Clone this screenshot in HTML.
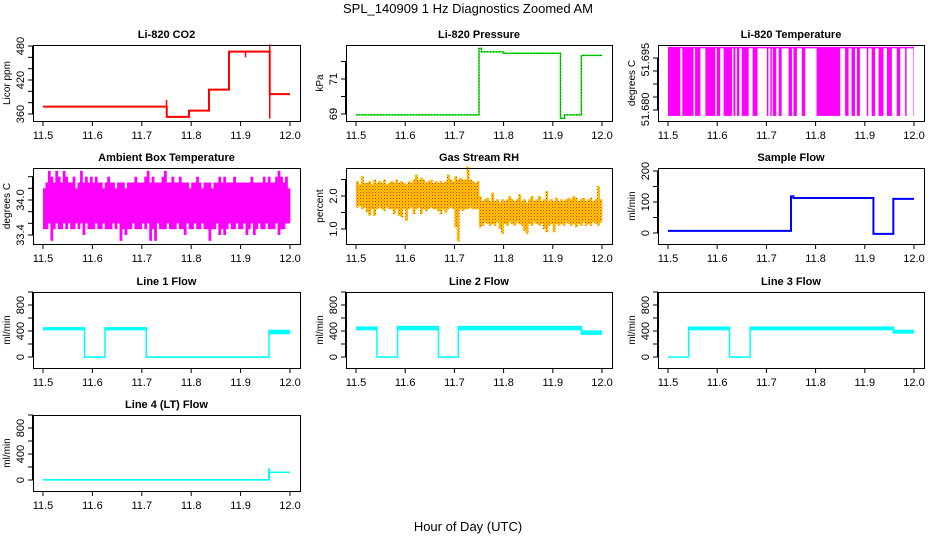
<!DOCTYPE html>
<html><head><meta charset="utf-8"><style>
html,body{margin:0;padding:0;background:#fff}
svg{display:block;font-family:"Liberation Sans",Arial,sans-serif}
</style></head><body>
<svg id="chart" width="936" height="540" viewBox="0 0 936 540">
<defs>
<pattern id="rhpat" width="3" height="3" patternUnits="userSpaceOnUse">
<rect width="3" height="3" fill="#ffd000"/><rect width="1" height="1" fill="#ff2000"/><rect x="1.5" y="1.5" width="1" height="1" fill="#ff4000"/>
</pattern>
</defs>
<text x="468" y="13" text-anchor="middle" font-size="13">SPL_140909  1 Hz Diagnostics Zoomed AM</text>
<text x="468" y="531" text-anchor="middle" font-size="13">Hour of Day (UTC)</text>
</svg>
<script>
// ---- data ----
const xTicks = [11.5, 11.6, 11.7, 11.8, 11.9, 12.0];
const xTickLabels = ["11.5", "11.6", "11.7", "11.8", "11.9", "12.0"];

const co2Times = [11.5, 11.7505, 11.7955, 11.836, 11.8765, 11.959, 12.0];
const co2Levels = [373, 355, 366, 403, 470, 395];
const co2SpikeT = [11.75, 11.959, 11.959, 11.91];
const co2SpikeV = [385, 352, 483, 460];

const presTimes = [11.5, 11.75, 11.755, 11.80, 11.9155, 11.924, 11.958, 12.0];
const presLevels = [68.95, 72.75, 72.55, 72.47, 68.75, 68.95, 72.35];

const tempHigh = 51.698, tempLow = 51.6783;
const tempGapStart = [11.525,11.552,11.566,11.596,11.606,11.630,11.637,11.645,11.664,11.682,11.704,11.711,11.720,11.731,11.752,11.762,11.779,11.850,11.867,11.880,11.890,11.907,11.921,11.938,11.955,11.972,11.985];
const tempGapEnd   = [11.529,11.555,11.576,11.599,11.613,11.633,11.640,11.650,11.672,11.701,11.708,11.713,11.725,11.745,11.755,11.772,11.802,11.860,11.873,11.884,11.904,11.914,11.928,11.945,11.965,11.982,11.999];

const ambHi = [34.2,34.3,34.5,34.4,34.3,34.5,34.4,34.3,34.5,34.4,34.3,34.3,34.4,34.2,34.3,34.5,34.3,34.4,34.3,34.4,34.3,34.4,34.3,34.3,34.2,34.3,34.4,34.3,34.3,34.2,34.3,34.3,34.3,34.2,34.3,34.3,34.3,34.4,34.3,34.3,34.3,34.4,34.5,34.3,34.4,34.3,34.3,34.3,34.4,34.5,34.3,34.3,34.4,34.3,34.3,34.4,34.3,34.3,34.3,34.2,34.3,34.3,34.4,34.3,34.2,34.3,34.3,34.3,34.2,34.3,34.3,34.4,34.3,34.4,34.3,34.3,34.3,34.4,34.3,34.3,34.3,34.3,34.3,34.3,34.4,34.3,34.3,34.3,34.3,34.4,34.3,34.4,34.3,34.3,34.4,34.5,34.4,34.3,34.4,34.2];
const ambLo = [33.5,33.5,33.6,33.3,33.5,33.6,33.5,33.5,33.6,33.5,33.6,33.5,33.5,33.6,33.5,33.6,33.4,33.6,33.5,33.5,33.5,33.6,33.5,33.5,33.6,33.5,33.5,33.5,33.6,33.5,33.6,33.3,33.5,33.4,33.5,33.5,33.6,33.5,33.5,33.5,33.6,33.5,33.6,33.3,33.5,33.3,33.6,33.5,33.5,33.5,33.6,33.5,33.5,33.5,33.6,33.5,33.5,33.4,33.6,33.5,33.5,33.6,33.5,33.5,33.6,33.5,33.5,33.3,33.5,33.5,33.6,33.4,33.5,33.4,33.5,33.6,33.5,33.5,33.6,33.5,33.5,33.6,33.4,33.5,33.6,33.4,33.5,33.6,33.5,33.5,33.6,33.5,33.5,33.5,33.6,33.4,33.5,33.5,33.6,33.6];

const rhHi = [2.45,2.35,2.6,2.4,2.4,2.45,2.35,2.5,2.4,2.45,2.4,2.5,2.35,2.4,2.45,2.4,2.5,2.4,2.45,2.4,2.35,2.45,2.4,2.5,2.65,2.5,2.55,2.5,2.4,2.45,2.5,2.4,2.45,2.4,2.45,2.4,2.45,2.65,2.5,2.45,2.6,2.5,2.55,2.5,2.5,2.9,2.5,2.45,2.4,2.45,2.0,1.85,1.9,1.95,1.85,2.1,1.85,1.9,1.8,1.9,1.85,1.9,2.0,1.9,1.85,1.9,2.05,1.85,1.9,1.8,1.9,2.0,1.85,1.9,2.0,1.85,1.9,2.15,1.85,1.9,1.85,1.95,1.85,1.9,1.85,1.9,1.95,1.9,2.0,1.95,1.85,1.9,1.95,1.85,1.9,1.95,1.85,1.9,2.3,1.9];
const rhLo = [1.65,1.7,1.6,1.65,1.5,1.4,1.6,1.4,1.6,1.65,1.6,1.55,1.65,1.6,1.6,1.45,1.6,1.4,1.35,1.6,1.25,1.6,1.65,1.45,1.6,1.65,1.45,1.6,1.55,1.6,1.65,1.6,1.6,1.55,1.45,1.6,1.5,1.6,1.65,1.6,1.05,0.62,1.6,1.55,1.6,1.6,1.65,1.6,1.6,1.6,1.05,1.1,1.2,1.15,1.1,1.15,1.1,1.2,1.0,0.85,1.15,1.1,1.2,1.15,1.1,1.2,1.15,1.1,0.95,0.85,1.15,1.1,1.2,1.15,1.1,1.15,1.0,0.9,1.1,1.15,0.9,1.15,1.1,1.15,1.1,1.2,1.15,1.1,1.15,1.05,1.15,1.1,1.2,1.1,1.15,1.1,1.2,1.15,1.1,1.2];

const sampTimes = [11.5, 11.75, 11.755, 11.9175, 11.958, 12.0];
const sampLevels = [7, 118, 113, -3, 110];

const l1Times = [11.5, 11.584, 11.6255, 11.709, 11.9575, 12.0];
const l1Lo = [410, -15, 410, -15, 350];
const l1Hi = [460, 10, 460, 10, 420];
const l2Times = [11.5, 11.5426, 11.5845, 11.6676, 11.708, 11.958, 12.0];
const l2Lo = [410, -10, 410, -10, 410, 340];
const l2Hi = [470, 10, 480, 10, 480, 410];
const l3Times = [11.5, 11.542, 11.625, 11.667, 11.958, 12.0];
const l3Lo = [-10, 410, -10, 410, 360];
const l3Hi = [10, 470, 10, 470, 420];
const l4Times = [11.5, 11.9575, 12.0];
const l4Lo = [-10, 110];
const l4Hi = [15, 130];
const l4SpikeV = 180;

// ---- layout ----
const NS = "http://www.w3.org/2000/svg";
const svg = document.getElementById('chart');
const colL = [33, 346, 658], colR = [300, 612, 924];
const col115 = [43, 356, 668], col120 = [290, 602, 914];
const rowT = [45, 168, 292, 415], boxH = 76;

function el(tag, attrs, parent) {
  const e = document.createElementNS(NS, tag);
  for (const k in attrs) e.setAttribute(k, attrs[k]);
  (parent || svg).appendChild(e);
  return e;
}
function mkX(c) { return h => col115[c] + (h - 11.5) * (col120[c] - col115[c]) / 0.5; }
function mkY(v1, p1, v2, p2) { return v => p1 + (v - v1) * (p2 - p1) / (v2 - v1); }

function panel(name, c, r, title, ylab, yT, yTicks, yLabels, Y) {
  const g = el('g', {});
  
  
  const X = mkX(c), top = rowT[r], bot = top + boxH;
  const t = el('text', {x: (colL[c] + colR[c]) / 2, y: top - 7, 'text-anchor': 'middle', 'font-size': 11, 'font-weight': 'bold'}, g);
  t.textContent = title;
  
  
  xTicks.forEach((v, i) => {
    const x = X(v);
    el('line', {x1: x, x2: x, y1: bot, y2: bot + 5, stroke: '#000'}, g);
    const tl = el('text', {x: x, y: bot + 18, 'text-anchor': 'middle', 'font-size': 11}, g);
    tl.textContent = xTickLabels[i];
    
    
  });
  el('line', {x1: X(11.5), x2: X(12.0), y1: bot + 0.5, y2: bot + 0.5, stroke: '#000'}, g);
  yTicks.forEach(v => {
    const y = Y(v);
    el('line', {x1: colL[c] - 5, x2: colL[c], y1: y, y2: y, stroke: '#000'}, g);
  });
  el('line', {x1: colL[c] - 0.5, x2: colL[c] - 0.5, y1: Y(yTicks[0]), y2: Y(yTicks[yTicks.length - 1]), stroke: '#000'}, g);
  yLabels.forEach(([v, s]) => {
    const y = Y(v), x = colL[c] - 9;
    const tl = el('text', {x: x, y: y, 'text-anchor': 'middle', 'font-size': 11, transform: `rotate(-90 ${x} ${y})`}, g);
    tl.textContent = s;
    
    
  });
  const yx = colL[c] - 23, yy = top + boxH / 2;
  const yt = el('text', {x: yx, y: yy, 'text-anchor': 'middle', 'font-size': 10, transform: `rotate(-90 ${yx} ${yy})`}, g);
  yt.textContent = ylab;
  
  
  const plot = el('g', {}, g);
  
  
  el('rect', {x: colL[c] + 0.5, y: top + 0.5, width: colR[c] - colL[c], height: boxH, fill: 'none', stroke: '#000'}, g);
  return {X, Y, plot, top, bot};
}
function stepPath(X, Y, times, levels) {
  let d = `M${X(times[0])},${Y(levels[0])}`;
  for (let i = 0; i < levels.length; i++) {
    d += ` L${X(times[i + 1])},${Y(levels[i])}`;
    if (i + 1 < levels.length) d += ` L${X(times[i + 1])},${Y(levels[i + 1])}`;
  }
  return d;
}
function bandSteps(p, times, lo, hi, color) {
  for (let i = 0; i < lo.length; i++) {
    const x1 = p.X(times[i]), x2 = p.X(times[i + 1]);
    const r = el('rect', {x: x1, y: p.Y(hi[i]), width: x2 - x1, height: Math.max(1.5, p.Y(lo[i]) - p.Y(hi[i])), fill: color}, p.plot);
    
    
    if (i + 1 < lo.length) {
      const a = Math.min(p.Y(hi[i]), p.Y(hi[i + 1])), b = Math.max(p.Y(lo[i]), p.Y(lo[i + 1]));
      el('line', {x1: x2, x2: x2, y1: a, y2: b, stroke: color, 'stroke-width': 1.5}, p.plot);
    }
  }
}
function bins(p, hiArr, loArr, fill) {
  const n = hiArr.length, w = 0.5 / n;
  for (let i = 0; i < n; i++) {
    const x1 = p.X(11.5 + i * w), x2 = p.X(11.5 + (i + 1) * w);
    const r = el('rect', {x: x1, y: p.Y(hiArr[i]), width: x2 - x1 + 0.3, height: p.Y(loArr[i]) - p.Y(hiArr[i]), fill: fill}, p.plot);
    
    
  }
}
function range(a, b, s) { const o = []; for (let v = a; v <= b + 1e-9; v += s) o.push(+v.toFixed(6)); return o; }

// 1 CO2
let p = panel('co2', 0, 0, 'Li-820 CO2', 'Licor ppm', 0, range(360, 480, 20), [[360, '360'], [420, '420'], [480, '480']], mkY(360, 114, 480, 46));
let s = el('path', {d: stepPath(p.X, p.Y, co2Times, co2Levels), fill: 'none', stroke: '#ff0000', 'stroke-width': 2}, p.plot);


co2SpikeT.forEach((t, i) => {
  const k = co2Times.findIndex((tt, j) => t >= tt && t < co2Times[j + 1]);
  el('line', {x1: p.X(t), x2: p.X(t), y1: p.Y(co2Levels[Math.max(0, k)]), y2: p.Y(co2SpikeV[i]), stroke: '#ff0000', 'stroke-width': 1.5}, p.plot);
});

// 2 Pressure
p = panel('pressure', 1, 0, 'Li-820 Pressure', 'kPa', 0, [69, 70, 71, 72], [[69, '69'], [71, '71']], mkY(69, 114, 71, 79));
s = el('path', {d: stepPath(p.X, p.Y, presTimes, presLevels), fill: 'none', stroke: '#00ee00', 'stroke-width': 1.5}, p.plot);


el('path', {d: stepPath(p.X, p.Y, presTimes, presLevels), fill: 'none', stroke: '#222', 'stroke-width': 0.8, 'stroke-dasharray': '1,2'}, p.plot);

// 3 Li-820 temperature
p = panel('li820-temp', 2, 0, 'Li-820 Temperature', 'degrees C', 0, [51.680, 51.68375, 51.6875, 51.69125, 51.695], [[51.6802, '51.680'], [51.6945, '51.695']], mkY(51.680, 110, 51.695, 58));
{
  let start = 11.5;
  const segs = [];
  for (let i = 0; i < tempGapStart.length; i++) { segs.push([start, tempGapStart[i]]); start = tempGapEnd[i]; }
  segs.push([start, 12.0]);
  segs.forEach(([a, b]) => {
    if (b <= a) return;
    const r = el('rect', {x: p.X(a), y: p.Y(tempHigh), width: p.X(b) - p.X(a), height: p.Y(tempLow) - p.Y(tempHigh), fill: '#ff00ff'}, p.plot);
    
    
  });
  el('line', {x1: p.X(11.5), x2: p.X(12.0), y1: p.Y(tempHigh), y2: p.Y(tempHigh), stroke: '#ff00ff', 'stroke-width': 1.5}, p.plot);
}

// 4 Ambient
p = panel('ambient-temp', 0, 1, 'Ambient Box Temperature', 'degrees C', 0, [33.4, 33.6, 33.8, 34.0, 34.2, 34.4], [[33.4, '33.4'], [34.0, '34.0']], mkY(33.4, 235, 34.0, 200));
bins(p, ambHi, ambLo, '#ff00ff');

// 5 RH
p = panel('gas-rh', 1, 1, 'Gas Stream RH', 'percent', 0, [1.0, 1.5, 2.0, 2.5], [[1.0, '1.0'], [2.0, '2.0']], mkY(1.0, 229, 2.0, 196));
bins(p, rhHi, rhLo, 'url(#rhpat)');

// 6 Sample flow
p = panel('sample-flow', 2, 1, 'Sample Flow', 'ml/min', 0, [0, 50, 100, 150, 200], [[0, '0'], [100, '100'], [200, '200']], mkY(0, 233, 100, 202));
s = el('path', {d: stepPath(p.X, p.Y, sampTimes, sampLevels), fill: 'none', stroke: '#0000ff', 'stroke-width': 2}, p.plot);



// 7-10 line flows
const flowTicks = [0, 200, 400, 600, 800, 1000];
const flowLabels = [[0, '0'], [400, '400'], [800, '800']];
p = panel('line1-flow', 0, 2, 'Line 1 Flow', 'ml/min', 0, flowTicks, flowLabels, mkY(0, 357, 400, 331));
bandSteps(p, l1Times, l1Lo, l1Hi, '#00ffff');
p = panel('line2-flow', 1, 2, 'Line 2 Flow', 'ml/min', 0, flowTicks, flowLabels, mkY(0, 357, 400, 331));
bandSteps(p, l2Times, l2Lo, l2Hi, '#00ffff');
p = panel('line3-flow', 2, 2, 'Line 3 Flow', 'ml/min', 0, flowTicks, flowLabels, mkY(0, 357, 400, 331));
bandSteps(p, l3Times, l3Lo, l3Hi, '#00ffff');
p = panel('line4-flow', 0, 3, 'Line 4 (LT) Flow', 'ml/min', 0, flowTicks, flowLabels, mkY(0, 480, 400, 454));
bandSteps(p, l4Times, l4Lo, l4Hi, '#00ffff');
el('line', {x1: p.X(l4Times[1]), x2: p.X(l4Times[1]), y1: p.Y(0), y2: p.Y(l4SpikeV), stroke: '#00ffff', 'stroke-width': 2}, p.plot);
</script>
</body></html>
